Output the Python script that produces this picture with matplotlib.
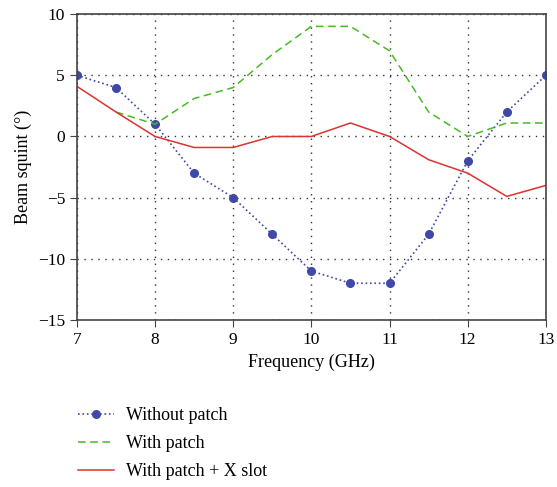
import numpy as np
import matplotlib.pyplot as plt

plt.rcParams['font.family'] = ['Liberation Serif', 'DejaVu Serif']

freq = [7, 7.5, 8, 8.5, 9, 9.5, 10, 10.5, 11, 11.5, 12, 12.5, 13]
without_patch = [5, 4, 1, -3, -5, -8, -11, -12, -12, -8, -2, 2, 5]
freq_patch = [7.5, 8, 8.5, 9, 9.5, 10, 10.5, 11, 11.5, 12, 12.5, 13]
with_patch = [2, 1, 3.1, 4, 6.7, 9, 9, 7, 2, 0, 1.1, 1.1]
with_patch_slot = [4.1, 2, 0, -0.9, -0.9, 0, 0, 1.1, 0, -1.9, -3, -4.9, -4]

fig = plt.figure(figsize=(5.57, 4.87), dpi=100)
ax = fig.add_axes([0.138, 0.343, 0.842, 0.628])

l1, = ax.plot(freq, without_patch, color='#4048a8', linestyle=':', linewidth=1.2,
              marker='o', markersize=5.5, label='Without patch')
l2, = ax.plot(freq_patch, with_patch, color='#44bb22', linestyle=(0, (5, 3)), linewidth=1.1,
              label='With patch')
l3, = ax.plot(freq, with_patch_slot, color='#e03030', linestyle='-', linewidth=1.1,
              label='With patch + X slot')

ax.set_xlim(7, 13)
ax.set_ylim(-15, 10)
ax.set_xticks(np.arange(7, 14, 1))
ax.set_yticks(np.arange(-15, 11, 5))
ax.set_yticklabels(['\u221215', '\u221210', '\u22125', '0', '5', '10'])
ax.grid(True, color='#333333', linestyle=(0, (1, 4)), linewidth=1.0)
for s in ax.spines.values():
    s.set_color('#444444')
    s.set_linewidth(1.2)
ax.tick_params(labelsize=12.5, direction='out', length=5, color='#444444')
ax.set_xlabel('Frequency (GHz)', fontsize=13)
ax.set_ylabel('Beam squint (\u00b0)', fontsize=13)

fig.legend(handles=[l1, l2, l3], loc='upper left', bbox_to_anchor=(0.11, 0.197),
           frameon=False, fontsize=13, handlelength=2.0, labelspacing=0.6,
           handletextpad=0.7, numpoints=1)

fig.savefig('out.png', dpi=100)
